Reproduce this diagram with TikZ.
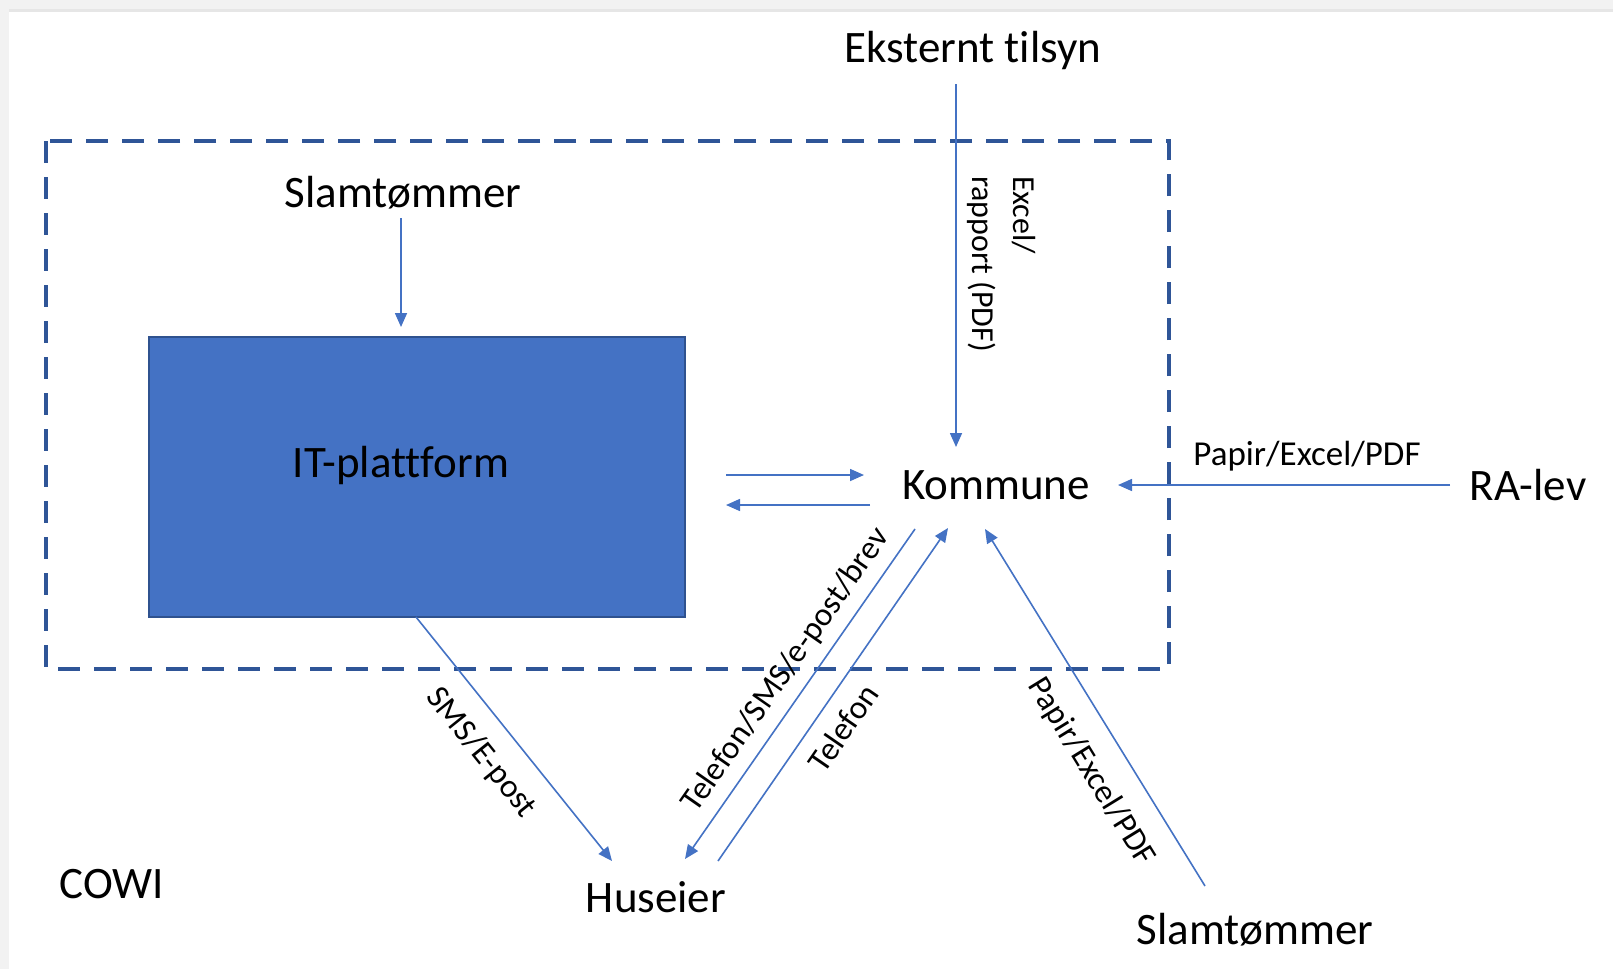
\documentclass[tikz,border=0pt]{standalone}
\usepackage{fontspec}
\setmainfont{Carlito}[Ligatures=NoCommon]
\usetikzlibrary{arrows.meta}
\definecolor{itblue}{HTML}{4472C4}
\definecolor{itborder}{HTML}{2F528F}
\definecolor{dashblue}{HTML}{2F5597}
\definecolor{edgegray}{HTML}{F2F2F2}
\definecolor{edgegraydark}{HTML}{E6E6E6}
\begin{document}
\begin{tikzpicture}[x=1pt,y=-1pt,
  lbl/.style={font=\fontsize{45}{54}\selectfont, inner sep=0pt, text=black},
  elbl/.style={font=\fontsize{35}{43}\selectfont, inner sep=0pt, text=black},
  slbl/.style={font=\fontsize{33}{41}\selectfont, inner sep=0pt, text=black},
  vlbl/.style={font=\fontsize{32}{41}\selectfont, inner sep=0pt, text=black},
  conn/.style={draw=itblue, line width=1.6pt, -{Triangle[length=14pt,width=12pt]}},
  frame/.style={draw=dashblue, line width=4pt, dash pattern=on 22pt off 14pt},
  itbox/.style={fill=itblue, draw=itborder, line width=1.2pt},
]
\useasboundingbox (0,0) rectangle (1613,969);
\fill[white] (0,0) rectangle (1613,969);
\fill[edgegray] (0,0) rectangle (1613,12);
\fill[edgegraydark] (0,9) rectangle (1613,12);
\fill[edgegray] (0,0) rectangle (9,969);

% dashed COWI frame
\draw[frame] (46,141) rectangle (1169,669);

% IT platform box
\draw[itbox] (149,337) rectangle (685,617);
\node[lbl] (it) at (401,465) {IT-plattform};

% text nodes
\node[lbl] (ekst) at (973,51) {Eksternt tilsyn};
\node[lbl] (slamtop) at (403,193) {Slamtømmer};
\node[lbl] (kom) at (996,485) {Kommune};
\node[lbl] (ralev) at (1528,485) {RA-lev};
\node[lbl] (hus) at (656,897) {Huseier};
\node[lbl] (cowi) at (112,884) {COWI};
\node[lbl] (slambot) at (1255,930) {Slamtømmer};

% connector end points
\coordinate (a1s) at (401,218); \coordinate (a1e) at (401,327);
\coordinate (a2s) at (956,84);  \coordinate (a2e) at (956,447);
\coordinate (a3s) at (726,475); \coordinate (a3e) at (864,475);
\coordinate (a4s) at (870,505); \coordinate (a4e) at (726,505);
\coordinate (a5s) at (1450,485); \coordinate (a5e) at (1118,485);
\coordinate (a6s) at (416,617); \coordinate (a6e) at (612,861);
\coordinate (a7s) at (915,529); \coordinate (a7e) at (685,859);
\coordinate (a8s) at (718,861); \coordinate (a8e) at (948,528);
\coordinate (a9s) at (1205,886); \coordinate (a9e) at (985,529);

\draw[conn] (a1s) -- (a1e);
\draw[conn] (a2s) -- (a2e);
\draw[conn] (a3s) -- (a3e);
\draw[conn] (a4s) -- (a4e);
\draw[conn] (a5s) -- (a5e);
\draw[conn] (a6s) -- (a6e);
\draw[conn] (a7s) -- (a7e);
\draw[conn] (a8s) -- (a8e);
\draw[conn] (a9s) -- (a9e);

% connector labels
\node[vlbl, rotate=-90, align=left] (l2) at (1002,264) {Excel/\\rapport (PDF)};
\node[elbl] (l5) at (1307,456) {Papir/Excel/PDF};
\node[slbl, rotate=-51.2] (l6) at (481,753) {SMS/E-post};
\node[slbl, rotate=55.1] (l7) at (786,670) {Telefon/SMS/e-post/brev};
\node[slbl, rotate=55.4] (l8) at (843,728) {Telefon};
\node[slbl, rotate=-58.4] (l9) at (1091,772) {Papir/Excel/PDF};
\end{tikzpicture}
\end{document}
